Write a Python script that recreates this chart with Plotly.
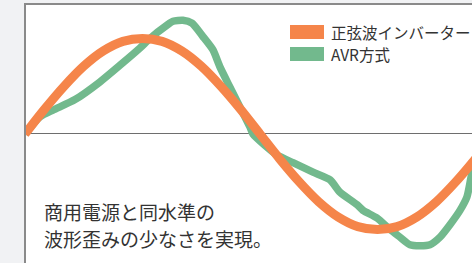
import plotly.graph_objects as go

# Phase (degrees) and normalized amplitude
sine_phase = [0, 15, 30, 45, 60, 75, 90, 105, 120, 135, 150, 165, 180, 195, 210, 225,
              240, 255, 270, 285, 300, 315, 330, 345, 360]
sine_value = [0.0, 0.26, 0.50, 0.71, 0.87, 0.97, 1.0, 0.97, 0.87, 0.71, 0.50, 0.26, 0.0,
              -0.26, -0.50, -0.71, -0.87, -0.97, -1.0, -0.97, -0.87, -0.71, -0.50, -0.26, 0.0]

avr_phase = [0, 11.5, 21.4, 38.3, 57.4, 72.8, 88.1, 95.7, 108.8, 113.4, 121.0, 127.9,
             136.3, 144.0, 149.4, 157.0, 164.7, 172.4, 174.6, 193.0, 205.3, 220.6, 233.6,
             241.3, 254.3, 258.9, 269.6, 279.6, 287.2, 294.9, 302.5, 310.2, 317.9, 325.5,
             333.2, 338.5, 342.4, 348.5, 356.0]
avr_value = [0.0, 0.18, 0.25, 0.36, 0.545, 0.72, 0.90, 1.0, 1.14, 1.18, 1.19, 1.16,
             1.02, 0.88, 0.70, 0.49, 0.28, 0.07, 0.0, -0.22, -0.30, -0.40, -0.48,
             -0.61, -0.74, -0.80, -0.88, -1.0, -1.08, -1.16, -1.17, -1.16, -1.08, -0.95,
             -0.80, -0.66, -0.41, -0.17, 0.0]

series_names = ["正弦波インバーター", "AVR方式"]
caption_lines = ["商用電源と同水準の", "波形歪みの少なさを実現。"]

ORANGE = "#F5854A"
GREEN = "#72B98D"
TEXT = "#333333"
FONT = "Noto Sans CJK JP"

fig = go.Figure()
fig.add_trace(go.Scatter(x=avr_phase, y=avr_value, mode="lines",
                         line=dict(color=GREEN, width=7.5, shape="spline", smoothing=0.6),
                         name=series_names[1], showlegend=False, hoverinfo="skip"))
fig.add_trace(go.Scatter(x=sine_phase, y=sine_value, mode="lines",
                         line=dict(color=ORANGE, width=9, shape="spline", smoothing=1.0),
                         name=series_names[0], showlegend=False, hoverinfo="skip"))

W, H = 472, 263
L, T = 25, 4
pw, ph = W - L, H - T

def px(xp):
    return (xp - L) / pw

def py(yp):
    return (H - yp) / ph

shapes = [
    dict(type="line", xref="paper", yref="paper", x0=0, x1=0, y0=0, y1=1.004,
         line=dict(color="#8a8a8a", width=2)),
    dict(type="line", xref="paper", yref="paper", x0=0, x1=1, y0=1, y1=1,
         line=dict(color="#8a8a8a", width=2)),
    dict(type="rect", xref="paper", yref="paper", x0=px(290), x1=px(324), y0=py(39), y1=py(25),
         fillcolor=ORANGE, line=dict(width=0)),
    dict(type="rect", xref="paper", yref="paper", x0=px(290), x1=px(324), y0=py(61), y1=py(47),
         fillcolor=GREEN, line=dict(width=0)),
]

annotations = [
    dict(xref="paper", yref="paper", x=px(329), y=py(32), text=series_names[0],
         xanchor="left", yanchor="middle", showarrow=False,
         font=dict(family=FONT, size=15.5, color=TEXT)),
    dict(xref="paper", yref="paper", x=px(329), y=py(54), text=series_names[1],
         xanchor="left", yanchor="middle", showarrow=False,
         font=dict(family=FONT, size=15.5, color=TEXT)),
    dict(xref="paper", yref="paper", x=px(42), y=py(211), text=caption_lines[0],
         xanchor="left", yanchor="middle", showarrow=False,
         font=dict(family=FONT, size=19, color=TEXT)),
    dict(xref="paper", yref="paper", x=px(42), y=py(238), text=caption_lines[1],
         xanchor="left", yanchor="middle", showarrow=False,
         font=dict(family=FONT, size=19, color=TEXT)),
]

fig.update_layout(
    width=W, height=H,
    margin=dict(l=L, r=0, t=T, b=0, pad=0),
    paper_bgcolor="#f1f2f4",
    plot_bgcolor="#ffffff",
    showlegend=False,
    shapes=shapes,
    annotations=annotations,
    xaxis=dict(range=[0, 342.4], showgrid=False, zeroline=False, showticklabels=False,
               ticks="", showline=False, fixedrange=True),
    yaxis=dict(range=[-1.351, 1.361], showgrid=False, zeroline=True, zerolinecolor="#6e6e6e",
               zerolinewidth=1, showticklabels=False, ticks="", showline=False, fixedrange=True),
)

fig.write_html(
    "out.html",
    config={"displayModeBar": False},
    post_script="document.body.style.margin='0';document.body.style.overflow='hidden';"
                "document.documentElement.style.overflow='hidden';",
)
